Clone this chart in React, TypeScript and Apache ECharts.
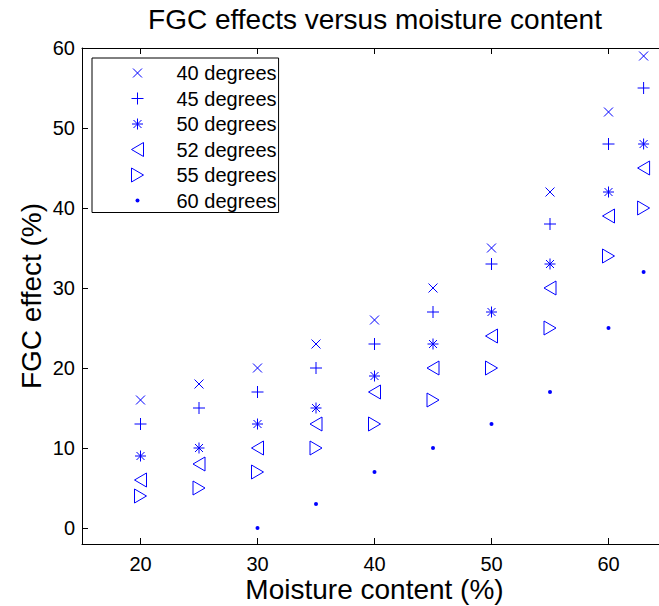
import React, { useEffect, useRef } from "react";
import * as echarts from "echarts";

// ---- Data ----
const moisture = [20, 25, 30, 35, 40, 45, 50, 55, 60, 63];
const deg40 = [16, 18, 20, 23, 26, 30, 35, 42, 52, 59];
const deg45 = [13, 15, 17, 20, 23, 27, 33, 38, 48, 55];
const deg50 = [9, 10, 13, 15, 19, 23, 27, 33, 42, 48];
const deg52 = [6, 8, 10, 13, 17, 20, 24, 30, 39, 45];
const deg55 = [4, 5, 7, 10, 13, 16, 20, 25, 34, 40];
const deg60 = [null, null, 0, 3, 7, 10, 13, 17, 25, 32];
const seriesNames = ["40 degrees", "45 degrees", "50 degrees", "52 degrees", "55 degrees", "60 degrees"];
const seriesValues = [deg40, deg45, deg50, deg52, deg55, deg60];
const xTicks = [20, 30, 40, 50, 60];
const yTicks = [0, 10, 20, 30, 40, 50, 60];

// ---- Styles ----
const BLUE = "#0000ff";
const FONT = "Liberation Sans, Arial, sans-serif";
const kinds = ["x", "plus", "star", "left", "right", "dot"];

function markerD(kind: string, cx: number, cy: number): string {
  switch (kind) {
    case "x": {
      const r = 4.5;
      return `M${cx - r} ${cy - r}L${cx + r} ${cy + r}M${cx + r} ${cy - r}L${cx - r} ${cy + r}`;
    }
    case "plus": {
      const r = 6;
      return `M${cx} ${cy - r}L${cx} ${cy + r}M${cx - r} ${cy}L${cx + r} ${cy}`;
    }
    case "star": {
      const r = 5.5, d = 4;
      return `M${cx} ${cy - r}L${cx} ${cy + r}M${cx - r} ${cy}L${cx + r} ${cy}M${cx - d} ${cy - d}L${cx + d} ${cy + d}M${cx + d} ${cy - d}L${cx - d} ${cy + d}`;
    }
    case "left":
      return `M${cx - 6} ${cy}L${cx + 6} ${cy - 7}L${cx + 6} ${cy + 7}Z`;
    case "right":
      return `M${cx + 6} ${cy}L${cx - 6} ${cy - 7}L${cx - 6} ${cy + 7}Z`;
    default:
      return `M${cx - 2} ${cy}A2 2 0 1 1 ${cx + 2} ${cy}A2 2 0 1 1 ${cx - 2} ${cy}Z`;
  }
}
function symbolPath(kind: string, w: number, h: number): string {
  return `path://M0 0M${w} ${h}` + markerD(kind, w / 2, h / 2);
}

const XMIN = 15, XMAX = 65, YMIN = -2, YMAX = 60;

function buildOption() {
  const series = seriesNames.map((name, i) => {
    const kind = kinds[i];
    const data: number[][] = [];
    seriesValues[i].forEach((v, j) => {
      if (v !== null && v !== undefined) data.push([moisture[j], v as number]);
    });
    const isDot = kind === "dot";
    return {
      name,
      type: "scatter",
      data,
      symbol: symbolPath(kind, 16, 16),
      symbolSize: 16,
      itemStyle: isDot
        ? { color: BLUE, borderColor: BLUE, borderWidth: 0, opacity: 1 }
        : { color: "rgba(0,0,0,0)", borderColor: BLUE, borderWidth: 1, opacity: 1 },
      emphasis: { disabled: true },
      z: 2,
    };
  });

  const axisCommon = {
    axisLine: { show: true, onZero: false, lineStyle: { color: "#000", width: 1 } },
    splitLine: { show: false },
    nameMoveOverlap: false,
  };

  return {
    animation: false,
    backgroundColor: "#fff",
    title: {
      text: "FGC effects versus moisture content",
      left: 375,
      top: 5,
      textAlign: "center",
      padding: 0,
      textStyle: { fontSize: 28, fontWeight: "normal", fontFamily: FONT, color: "#000" },
    },
    legend: {
      orient: "vertical",
      left: 92,
      top: 58,
      padding: [5, 2, 2, 11],
      itemGap: 5.5,
      itemWidth: 68,
      itemHeight: 16,
      symbolKeepAspect: true,
      selectedMode: false,
      borderColor: "#000",
      borderWidth: 1,
      borderRadius: 0,
      backgroundColor: "#fff",
      itemStyle: { borderWidth: 1 },
      textStyle: { fontSize: 20, lineHeight: 20, fontFamily: FONT, color: "#000" },
      data: seriesNames.map((name, i) => ({
        name,
        icon: symbolPath(kinds[i], 68, 16),
        itemStyle: kinds[i] === "dot" ? { borderWidth: 0 } : { borderWidth: 1 },
      })),
    },
    grid: { left: 82, top: 48, width: 585, height: 496, outerBoundsMode: "none", containLabel: false },
    xAxis: [
      {
        ...axisCommon,
        type: "value",
        min: XMIN,
        max: XMAX,
        position: "bottom",
        name: "Moisture content (%)",
        nameLocation: "middle",
        nameGap: 31,
        nameTextStyle: { fontSize: 28, fontFamily: FONT, color: "#000" },
        axisTick: { show: true, inside: true, length: 6, customValues: xTicks, lineStyle: { color: "#000" } },
        axisLabel: { show: true, margin: 10, customValues: xTicks, fontSize: 20, fontFamily: FONT, color: "#000" },
      },
      {
        ...axisCommon,
        type: "value",
        min: XMIN,
        max: XMAX,
        position: "top",
        axisTick: { show: true, inside: true, length: 6, customValues: xTicks, lineStyle: { color: "#000" } },
        axisLabel: { show: false },
      },
    ],
    yAxis: [
      {
        ...axisCommon,
        type: "value",
        min: YMIN,
        max: YMAX,
        position: "left",
        name: "FGC effect (%)",
        nameLocation: "middle",
        nameRotate: 90,
        nameGap: 37,
        nameTextStyle: { fontSize: 28, fontFamily: FONT, color: "#000" },
        axisTick: { show: true, inside: true, length: 6, customValues: yTicks, lineStyle: { color: "#000" } },
        axisLabel: { show: true, margin: 7, customValues: yTicks, fontSize: 20, fontFamily: FONT, color: "#000" },
      },
      {
        ...axisCommon,
        type: "value",
        min: YMIN,
        max: YMAX,
        position: "right",
        axisTick: { show: true, inside: true, length: 6, customValues: yTicks, lineStyle: { color: "#000" } },
        axisLabel: { show: false },
      },
    ],
    series,
  };
}

export default function App() {
  const ref = useRef<HTMLDivElement>(null);
  useEffect(() => {
    if (!ref.current) return;
    const chart = echarts.init(ref.current, undefined, { renderer: "svg" });
    chart.setOption(buildOption() as any);
    return () => chart.dispose();
  }, []);
  return (
    <div
      style={{
        position: "fixed",
        left: 0,
        top: 0,
        width: 659,
        height: 606,
        overflow: "hidden",
        background: "#fff",
      }}
    >
      <div ref={ref} style={{ width: 700, height: 606 }} />
    </div>
  );
}
